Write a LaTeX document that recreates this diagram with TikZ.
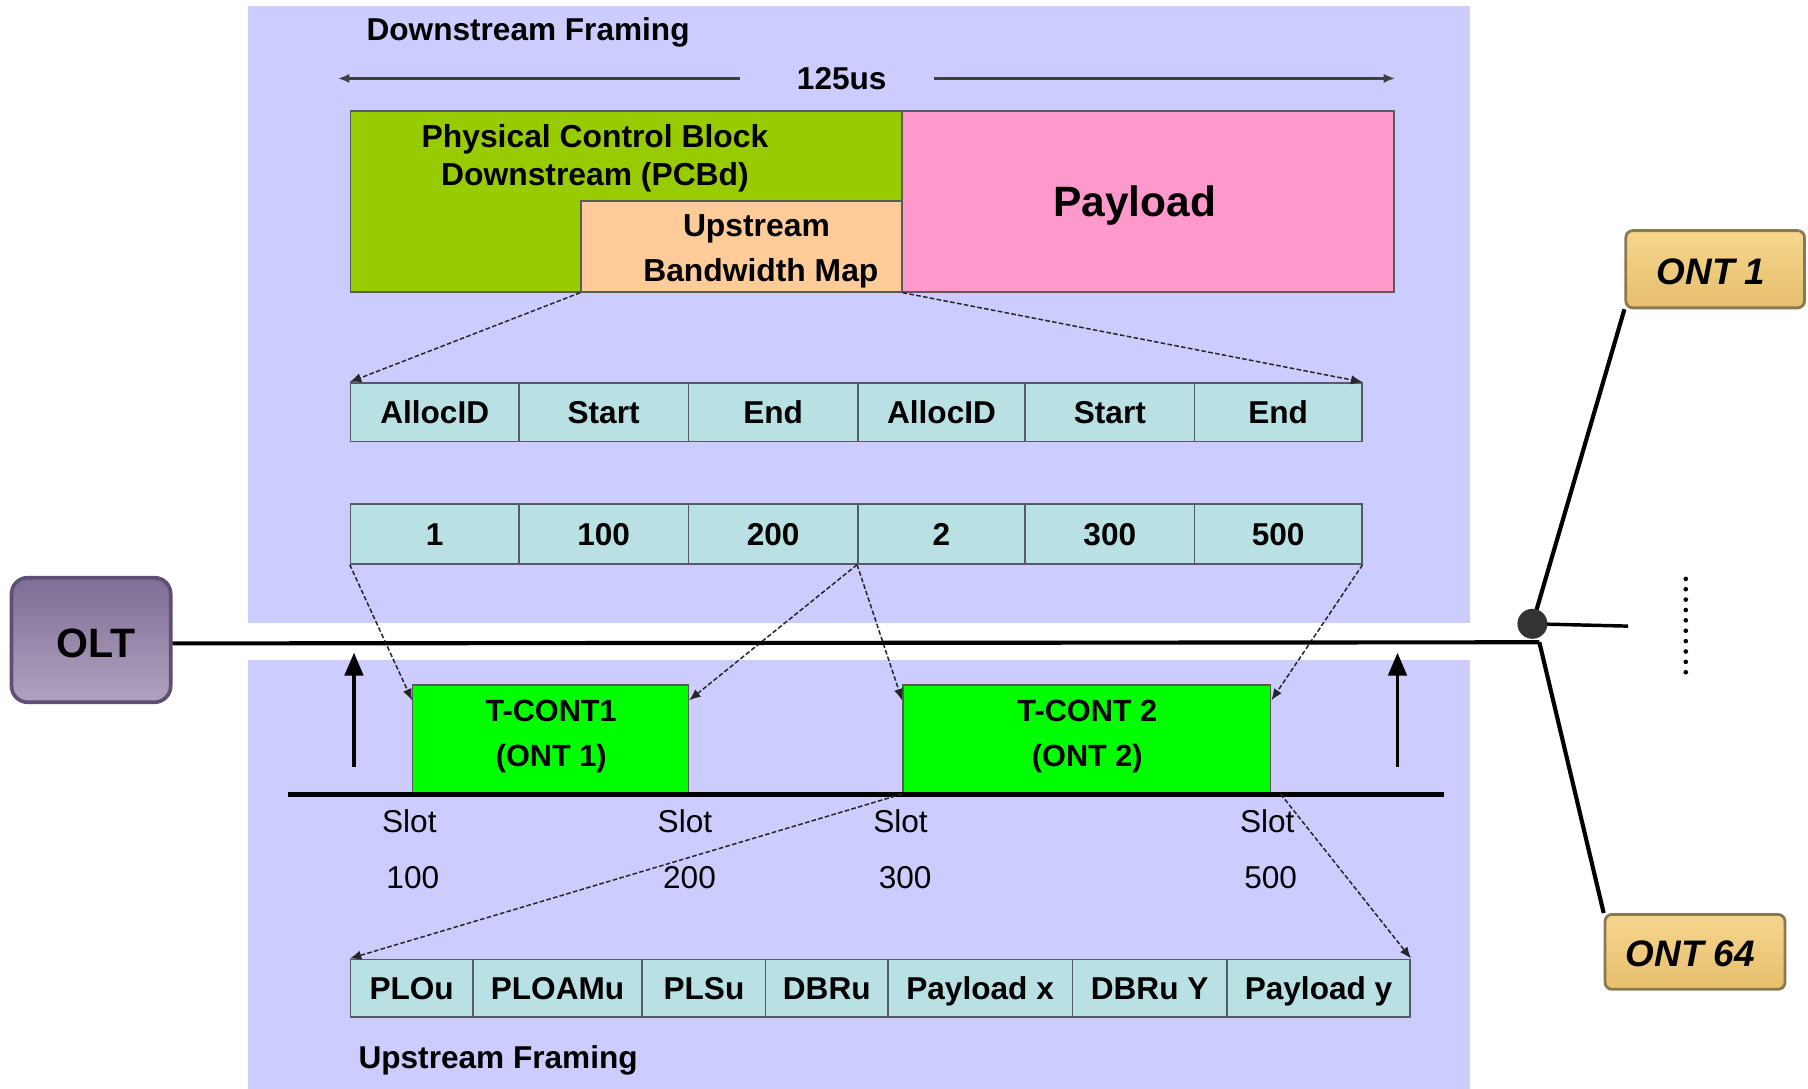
\documentclass[tikz,border=0pt]{standalone}
\usepackage{fontspec}
\setmainfont{Liberation Sans}
\usetikzlibrary{arrows.meta,fit}
\definecolor{panelc}{HTML}{CCCCFF}
\definecolor{pcbc}{HTML}{99CC00}
\definecolor{orangec}{HTML}{FFCC99}
\definecolor{pinkc}{HTML}{FF99CC}
\definecolor{cellc}{HTML}{B9E0E2}
\definecolor{cellb}{HTML}{555A66}
\definecolor{tcontc}{HTML}{00FF00}
\definecolor{boxb}{HTML}{5A5A5A}
\definecolor{oltb}{HTML}{5F4E75}
\definecolor{ontb}{HTML}{8A7850}
\definecolor{ontt}{HTML}{F6D68E}
\definecolor{ontbt}{HTML}{E6BE6E}
\definecolor{oltt}{HTML}{7E6D95}
\definecolor{oltbt}{HTML}{B0A3C0}
\begin{document}
\begin{tikzpicture}[x=0.5pt,y=-0.5pt,
  txt/.style={font=\bfseries\fontsize{13.7}{16}\selectfont, inner sep=0pt},
  rtxt/.style={font=\fontsize{13.7}{16}\selectfont, inner sep=0pt},
  blockbox/.style={draw=boxb, line width=0.8pt, inner sep=0pt},
  cell/.style={draw=cellb, line width=0.7pt, fill=cellc, inner sep=0pt},
  celltxt/.style={font=\bfseries\fontsize{13.7}{16}\selectfont, inner sep=0pt, text height=10pt, text depth=0pt},
  tcont/.style={draw=boxb, line width=0.6pt, fill=tcontc, inner sep=0pt},
  tconttxt/.style={inner sep=0pt, align=center, font=\bfseries\fontsize{13.3}{19.5}\selectfont},
  dasharrow/.style={draw=black!85, line width=0.65pt, dash pattern=on 2pt off 1pt, -{Latex[length=5pt,width=4pt]}},
  durarrow/.style={draw=black!75, line width=1pt, -{Latex[length=5pt,width=4pt]}},
  uparrow/.style={draw=black, line width=1.6pt, -{Triangle[length=10pt,width=8pt]}},
  fibre/.style={draw=black, line width=1.8pt},
  ontbox/.style={draw=ontb, line width=1.2pt, rounded corners=3pt, top color=ontt, bottom color=ontbt, inner sep=0pt},
  onttxt/.style={inner sep=0pt, font=\bfseries\itshape\fontsize{16}{18}\selectfont},
]
\useasboundingbox (0,0) rectangle (1568,944);
\fill[white] (0,0) rectangle (1568,944);

% panels
\fill[panelc] (215,5) rectangle (1275,540);
\fill[panelc] (215,572) rectangle (1275,944);

% downstream framing
\node[txt] (dsf) at (458,28) {Downstream Framing};
\node[txt] (dur) at (730,68) {125us};
\coordinate (durL) at (642,68);
\coordinate (durLt) at (293,68);
\coordinate (durR) at (810,68);
\coordinate (durRt) at (1210,68);
\draw[durarrow] (durL) -- (durLt);
\draw[durarrow] (durR) -- (durRt);

\node[blockbox, fill=pcbc, fit={(304,96)(782,253)}] (pcb) {};
\node[blockbox, fill=orangec, fit={(504,174)(782,253)}] (ubw) {};
\node[blockbox, fill=pinkc, fit={(782,96)(1209,253)}] (pay) {};
\node[txt, font=\bfseries\fontsize{18.4}{20}\selectfont] (payt) at (984,178) {Payload};
\node[txt, align=center, font=\bfseries\fontsize{13.8}{16.5}\selectfont] (pcbt) at (516,137) {Physical Control Block\\Downstream (PCBd)};
\node[txt, align=center, font=\bfseries\fontsize{13.8}{19.5}\selectfont] (ubwt) at (656,218) {Upstream\\ \ Bandwidth Map};

% header and value rows
\node[cell, fit={(304,332)(450,383)}, label={[celltxt]center:AllocID}] (h1) {};
\node[cell, fit={(450,332)(597,383)}, label={[celltxt]center:Start}] (h2) {};
\node[cell, fit={(597,332)(744,383)}, label={[celltxt]center:End}] (h3) {};
\node[cell, fit={(744,332)(889,383)}, label={[celltxt]center:AllocID}] (h4) {};
\node[cell, fit={(889,332)(1036,383)}, label={[celltxt]center:Start}] (h5) {};
\node[cell, fit={(1036,332)(1181,383)}, label={[celltxt]center:End}] (h6) {};

\node[cell, fit={(304,437)(450,489)}, label={[celltxt]center:1}] (v1) {};
\node[cell, fit={(450,437)(597,489)}, label={[celltxt]center:100}] (v2) {};
\node[cell, fit={(597,437)(744,489)}, label={[celltxt]center:200}] (v3) {};
\node[cell, fit={(744,437)(889,489)}, label={[celltxt]center:2}] (v4) {};
\node[cell, fit={(889,437)(1036,489)}, label={[celltxt]center:300}] (v5) {};
\node[cell, fit={(1036,437)(1181,489)}, label={[celltxt]center:500}] (v6) {};

\draw[dasharrow] (ubw.south west) -- (h1.north west);
\draw[dasharrow] (ubw.south east) -- (h6.north east);

% upstream part
\node[tcont, fit={(358,594)(597,688)}] (tc1) {};
\node[tconttxt] (tc1t) at (478,639) {T-CONT1\\(ONT 1)};
\node[tcont, fit={(783,594)(1102,688)}] (tc2) {};
\node[tconttxt] (tc2t) at (943,639) {T-CONT 2\\(ONT 2)};

\coordinate (blL) at (250,689);
\coordinate (blR) at (1252,689);
\draw[line width=1.8pt] (blL) -- (blR);

\coordinate (ua1) at (307,665);
\coordinate (ua1t) at (307,566);
\coordinate (ua2) at (1212,665);
\coordinate (ua2t) at (1212,566);
\draw[uparrow] (ua1) -- (ua1t);
\draw[uparrow] (ua2) -- (ua2t);

\node[rtxt] (s1) at (355,712) {Slot};
\node[rtxt] (s2) at (594,712) {Slot};
\node[rtxt] (s3) at (781,712) {Slot};
\node[rtxt] (s4) at (1099,712) {Slot};
\node[rtxt] (n1) at (358,761) {100};
\node[rtxt] (n2) at (598,761) {200};
\node[rtxt] (n3) at (785,761) {300};
\node[rtxt] (n4) at (1102,761) {500};

\draw[dasharrow] (v1.south west) -- ([yshift=-7pt]tc1.north west);
\draw[dasharrow] (v4.south west) -- ([yshift=-7pt]tc1.north east);
\draw[dasharrow] (v4.south west) -- ([yshift=-7pt]tc2.north west);
\draw[dasharrow] (v6.south east) -- ([yshift=-7pt]tc2.north east);

% bottom row
\node[cell, fit={(304,832)(410,882)}, label={[celltxt]center:PLOu}] (b1) {};
\node[cell, fit={(410,832)(557,882)}, label={[celltxt]center:PLOAMu}] (b2) {};
\node[cell, fit={(557,832)(664,882)}, label={[celltxt]center:PLSu}] (b3) {};
\node[cell, fit={(664,832)(770,882)}, label={[celltxt]center:DBRu}] (b4) {};
\node[cell, fit={(770,832)(930,882)}, label={[celltxt]center:Payload x}] (b5) {};
\node[cell, fit={(930,832)(1064,882)}, label={[celltxt]center:DBRu Y}] (b6) {};
\node[cell, fit={(1064,832)(1223,882)}, label={[celltxt]center:Payload y}] (b7) {};

\draw[dasharrow] (tc2.south west) -- (b1.north west);
\draw[dasharrow] ([xshift=4pt]tc2.south east) -- (b7.north east);

\node[txt] (usf) at (432,920) {Upstream Framing};

% OLT, fibre, splitter, ONTs
\node[draw=oltb, line width=1.6pt, rounded corners=7pt, top color=oltt, bottom color=oltbt, fit={(10,501)(148,609)}, inner sep=0pt] (olt) {};
\node[txt, font=\bfseries\fontsize{17.8}{20}\selectfont] (oltlbl) at (83,558) {OLT};

\node[ontbox, fit={(1410,200)(1565,267)}] (ont1) {};
\node[onttxt] (ont1t) at (1484,236) {ONT 1};
\node[ontbox, fit={(1392,793)(1548,858)}] (ont64) {};
\node[onttxt] (ont64t) at (1466,827) {ONT 64};

\coordinate (sc) at (1329,541);
\coordinate (jn) at (1335,557);
\coordinate (stub) at (1412,543);
\draw[fibre] (olt.east |- 0,558) -- (jn);
\draw[fibre] (jn) -- (ont64.north west);
\draw[fibre] (sc) -- (ont1.south west);
\draw[line width=1.5pt] (sc) -- (stub);
\node[circle, fill=black!80, minimum size=13pt, inner sep=0pt] (spl) at (sc) {};

\coordinate (dt1) at (1462,502);
\coordinate (dt2) at (1462,592);
\draw[line width=2pt, line cap=round, dash pattern=on 0pt off 4.5pt] (dt1) -- (dt2);
\end{tikzpicture}
\end{document}
